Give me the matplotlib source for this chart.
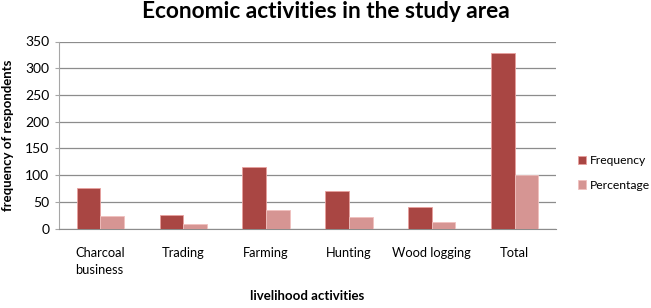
import numpy as np
import matplotlib
matplotlib.use("Agg")
import matplotlib.pyplot as plt

plt.rcParams['font.family'] = ['Lato', 'DejaVu Sans']

categories = ["Charcoal\nbusiness", "Trading", "Farming", "Hunting", "Wood logging", "Total"]
frequency = [76, 26, 116, 70, 41, 329]
percentage = [23.1, 7.9, 35.3, 21.3, 12.5, 100]

dark = "#A94643"
light = "#D69593"
grid_col = "#8C8C8C"

fig = plt.figure(figsize=(6.51, 3.08), dpi=100)
ax = fig.add_axes([59/651, 1 - 228.5/308, (556-59)/651, (228.5-41.5)/308])

x = np.arange(len(categories))
w = 0.285
ax.bar(x - w/2, frequency, w, color=dark, edgecolor="#E8A09E", linewidth=0.6, label="Frequency", zorder=3)
ax.bar(x + w/2, percentage, w, color=light, edgecolor="#F0C0BE", linewidth=0.6, label="Percentage", zorder=3)

ax.set_xlim(-0.5, len(categories) - 0.5)
ax.set_ylim(0, 350)
ax.set_yticks(range(0, 351, 50))
ax.yaxis.grid(True, color=grid_col, linewidth=0.9, zorder=0)
ax.set_axisbelow(True)

for s in ["top", "right"]:
    ax.spines[s].set_visible(False)
ax.spines["left"].set_color("#A6A6A6")
ax.spines["bottom"].set_color(grid_col)
ax.tick_params(axis="y", length=3, color="#A6A6A6", labelsize=10, pad=4)
ax.tick_params(axis="x", length=0, labelsize=9.3, pad=13)
ax.set_xticks(x)
ax.set_xticklabels(categories, ha="center", multialignment="left", linespacing=1.5)

ax.set_ylabel("frequency of respondents", fontsize=9.5, fontweight="bold", labelpad=8)
fig.text(307/651, 1 - 296/308, "livelihood activities", fontsize=9.5, fontweight="bold",
         ha="center", va="center")
fig.text(326/651, 1 - 12/308, "Economic activities in the study area", fontsize=16.3,
         fontweight="bold", ha="center", va="center")

fig.legend(loc="center left", bbox_to_anchor=(578/651, 1 - 173/308), frameon=False,
           fontsize=8.7, handlelength=0.7, handleheight=0.7, handletextpad=0.3,
           labelspacing=1.1, borderpad=0, borderaxespad=0)

fig.savefig("out.png", dpi=100)
